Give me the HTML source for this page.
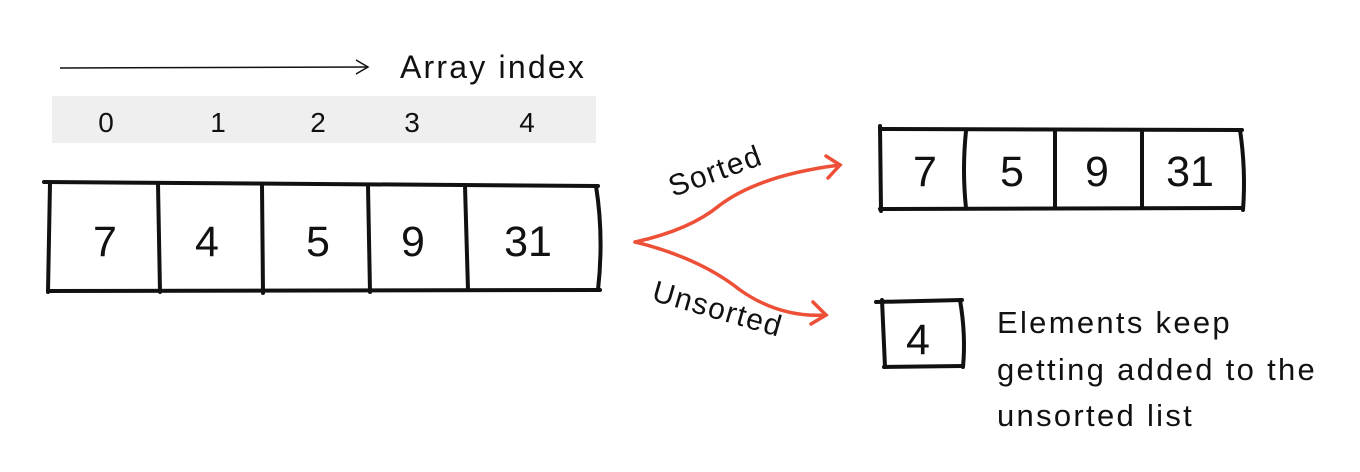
<!DOCTYPE html>
<html><head><meta charset="utf-8"><style>
html,body{margin:0;padding:0;background:#fff;}
svg{display:block;font-family:"Liberation Sans",sans-serif;}
</style></head><body>
<svg width="1360" height="472" viewBox="0 0 1360 472">
<g stroke="#111" stroke-width="1.5" fill="none">
<path d="M60 68 L368 67"/><path d="M356 60 L368 67 L356 74"/>
</g>
<text x="400" y="78" font-size="32" letter-spacing="2.2" fill="#111">Array index</text>
<rect x="52" y="96" width="544" height="47" fill="#efefef"/>
<g font-size="28" fill="#111" text-anchor="middle">
<text x="106" y="132">0</text><text x="218" y="132">1</text><text x="318" y="132">2</text><text x="412" y="132">3</text><text x="527" y="132">4</text>
</g>
<g stroke="#111" stroke-width="4" fill="none" stroke-linecap="round">
<path d="M44 182 L598 186"/><path d="M48 291 L600 290"/>
<path d="M50 183 L48 292"/><path d="M596 186 Q604 236 598 290"/>
<path d="M158 184 L160 292"/><path d="M262 186 L263 293"/><path d="M368 186 L370 292"/><path d="M465 186 L468 290"/>
</g>
<g font-size="43" fill="#111" text-anchor="middle">
<text x="105" y="256">7</text><text x="207" y="256">4</text><text x="318" y="256">5</text><text x="413" y="256">9</text><text x="528" y="256">31</text>
</g>
<g stroke="#ee4f37" stroke-width="3.5" fill="none" stroke-linecap="round">
<path d="M635 242 Q690 230 720 205 Q760 175 840 165"/>
<path d="M826 156 L840 165 L828 178"/>
<path d="M635 242 Q700 258 740 290 Q780 318 826 315"/>
<path d="M813 302 L826 315 L811 324"/>
</g>
<text x="715" y="181" font-size="30" letter-spacing="1.5" fill="#111" text-anchor="middle" transform="rotate(-20 715 170)">Sorted</text>
<text x="718" y="319" font-size="30" letter-spacing="1.5" fill="#111" text-anchor="middle" transform="rotate(16 718 308)">Unsorted</text>
<g stroke="#111" stroke-width="4" fill="none" stroke-linecap="round">
<path d="M880 129 L1242 130"/><path d="M880 209 L1243 208"/>
<path d="M880 126 L881 211"/><path d="M1240 130 Q1246 170 1243 210"/>
<path d="M966 131 Q962 170 966 208"/><path d="M1055 131 L1055 208"/><path d="M1142 131 L1142 208"/>
</g>
<g font-size="43" fill="#111" text-anchor="middle">
<text x="925" y="186">7</text><text x="1012" y="186">5</text><text x="1097" y="186">9</text><text x="1190" y="186">31</text>
</g>
<g stroke="#111" stroke-width="4" fill="none" stroke-linecap="round">
<path d="M876 302 L962 300"/><path d="M884 367 L963 366"/>
<path d="M882 300 L885 367"/><path d="M960 300 Q966 335 963 367"/>
</g>
<text x="918" y="354" font-size="43" fill="#111" text-anchor="middle">4</text>
<g font-size="31" letter-spacing="2.3" fill="#111">
<text x="997" y="333">Elements keep</text>
<text x="997" y="380">getting added to the</text>
<text x="997" y="426">unsorted list</text>
</g>
</svg>
</body></html>
